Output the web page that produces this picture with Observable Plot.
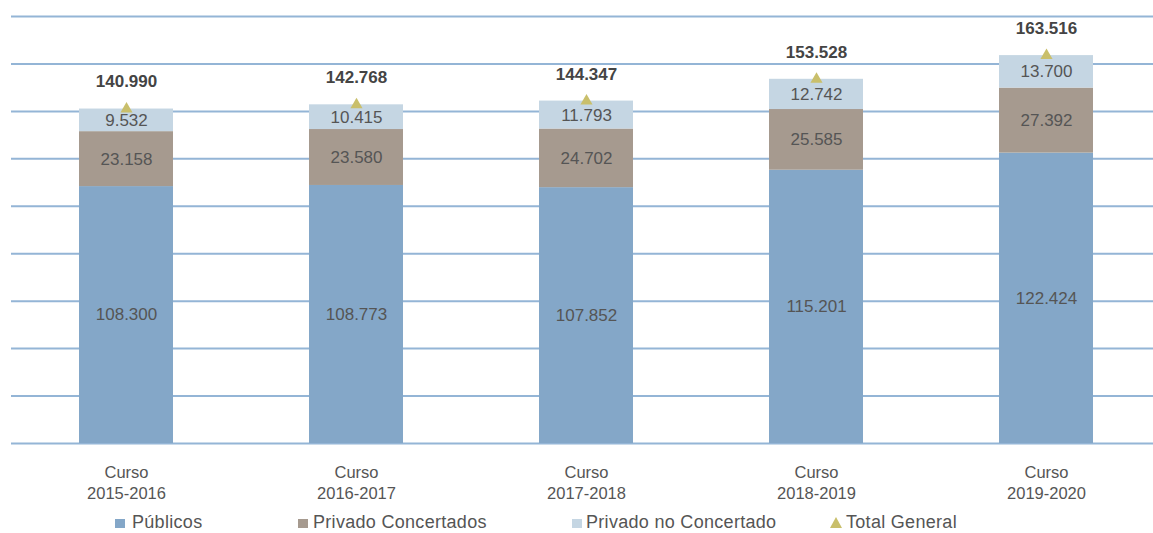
<!DOCTYPE html>
<html>
<head>
<meta charset="utf-8">
<script src="https://cdn.jsdelivr.net/npm/d3@7"></script>
<script src="https://cdn.jsdelivr.net/npm/@observablehq/plot@0.6"></script>
<style>
  html, body { margin: 0; padding: 0; background: #fff; overflow: hidden; }
  #wrap { width: 1153px; height: 533px; position: relative; font-family: "Liberation Sans", Arial, sans-serif; }
  #legend { position: relative; width: 1153px; height: 28px; }
  .item { position: absolute; top: 8px; font-size: 18px; line-height: 18px; color: #555; white-space: nowrap; letter-spacing: 0.3px; }
  .sw { position: absolute; top: 6px; width: 10px; height: 9px; }
  .tri { position: absolute; top: 4px; width: 0; height: 0; border-left: 6px solid transparent; border-right: 6px solid transparent; border-bottom: 11px solid #c9bf6b; }
</style>
</head>
<body>
<div id="wrap">
  <div id="chart"></div>
  <div id="legend"></div>
</div>
<script>
const categories = ["2015-2016", "2016-2017", "2017-2018", "2018-2019", "2019-2020"];
const series = ["Públicos", "Privado Concertados", "Privado no Concertado"];
const publicos = [108300, 108773, 107852, 115201, 122424];
const privadoConcertados = [23158, 23580, 24702, 25585, 27392];
const privadoNoConcertado = [9532, 10415, 11793, 12742, 13700];
const totalGeneral = [140990, 142768, 144347, 153528, 163516];
const totalLabel = "Total General";
const gridTicks = [0, 20000, 40000, 60000, 80000, 100000, 120000, 140000, 160000, 180000];
const colors = ["#84a7c8", "#a69a8f", "#c5d6e3"];
const triColor = "#c9bf6b";

const seriesValues = [publicos, privadoConcertados, privadoNoConcertado];
const rows = series.flatMap((s, si) => categories.map((c, ci) => ({curso: c, serie: s, value: seriesValues[si][ci]})));
const totals = categories.map((c, ci) => ({curso: c, total: totalGeneral[ci]}));

const fmt = d3.formatLocale({decimal: ",", thousands: ".", grouping: [3], currency: ["", "€"]}).format(",d");

const chart = Plot.plot({
  width: 1153,
  height: 505,
  marginLeft: 78,
  marginRight: 59,
  marginTop: 16,
  marginBottom: 62,
  style: {fontFamily: "Liberation Sans, Arial, sans-serif", background: "#fff"},
  x: {domain: categories, paddingInner: 0.592, paddingOuter: 0, label: null},
  y: {domain: [0, 180000], axis: null},
  color: {domain: series, range: colors},
  marks: [
    Plot.ruleY(gridTicks, {stroke: "#94b5d6", strokeWidth: 2, insetLeft: -67, insetRight: -59}),
    Plot.barY(rows, {x: "curso", y: "value", fill: "serie"}),
    Plot.text(rows, Plot.stackY({x: "curso", y: "value", z: "serie", text: d => fmt(d.value), fill: "#555", fontSize: 17})),
    Plot.dot(totals, {x: "curso", y: "total", symbol: "triangle", r: 4.5, fill: triColor}),
    Plot.text(totals, {x: "curso", y: "total", text: d => fmt(d.total), dy: -27, fontWeight: "bold", fontSize: 17, fill: "#444"}),
    Plot.axisX({tickSize: 0, tickPadding: 20, fontSize: 16.5, lineHeight: 1.27, fill: "#555", label: null, tickFormat: d => "Curso\n" + d})
  ]
});
document.getElementById("chart").appendChild(chart);

const legend = document.getElementById("legend");
const legendPos = [{sw: 115, tx: 132}, {sw: 298, tx: 313}, {sw: 572, tx: 586}];
series.forEach((s, i) => {
  const sw = document.createElement("div");
  sw.className = "item";
  sw.style.left = legendPos[i].sw + "px";
  const box = document.createElement("div");
  box.className = "sw";
  box.style.background = colors[i];
  box.style.left = "0px";
  sw.appendChild(box);
  legend.appendChild(sw);
  const t = document.createElement("div");
  t.className = "item";
  t.style.left = legendPos[i].tx + "px";
  t.textContent = s;
  legend.appendChild(t);
});
const triWrap = document.createElement("div");
triWrap.className = "item";
triWrap.style.left = "830px";
const tri = document.createElement("div");
tri.className = "tri";
triWrap.appendChild(tri);
legend.appendChild(triWrap);
const tt = document.createElement("div");
tt.className = "item";
tt.style.left = "846px";
tt.textContent = totalLabel;
legend.appendChild(tt);
</script>
</body>
</html>
